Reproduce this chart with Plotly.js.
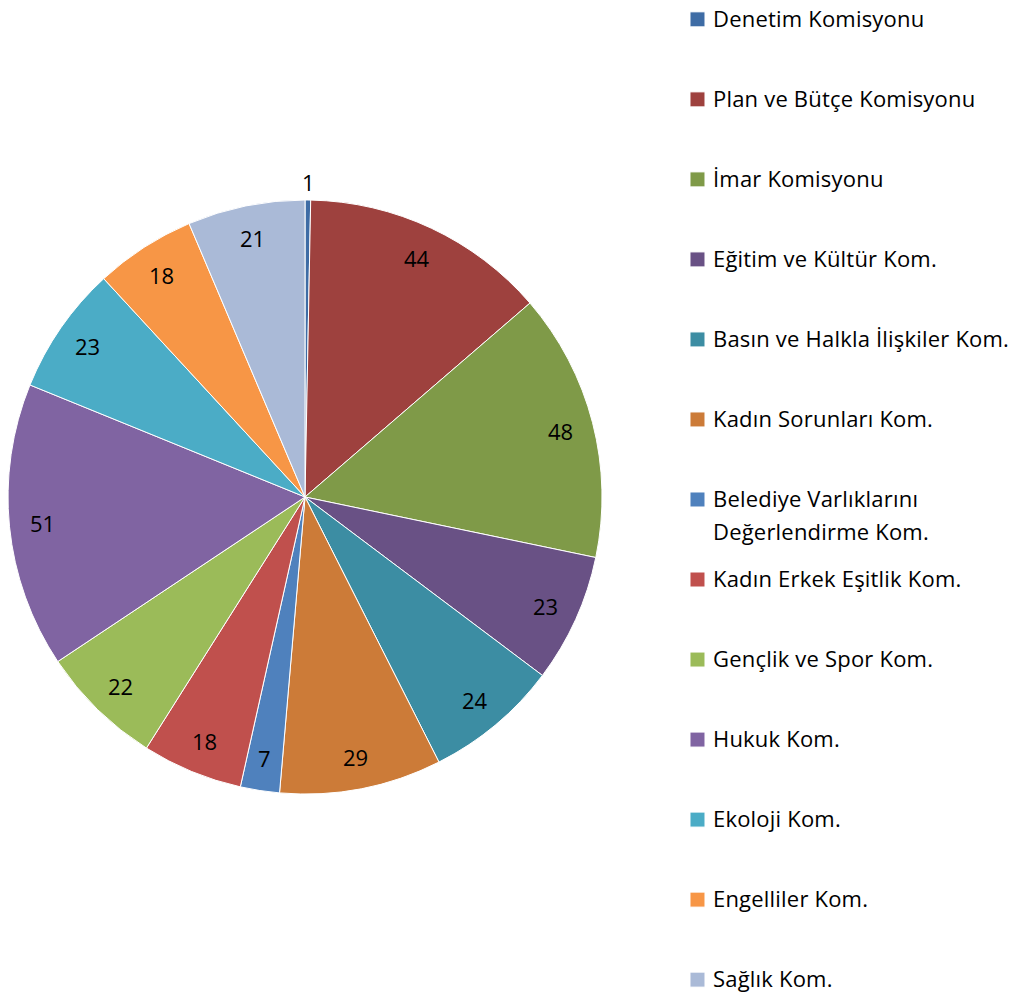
<!DOCTYPE html>
<html>
<head>
<meta charset="utf-8">
<script src="https://cdn.plot.ly/plotly-3.0.1.min.js"></script>
<style>
html,body{margin:0;padding:0;background:#fff;}
#chart{width:1027px;height:1001px;}
#chart .legendtext{letter-spacing:0.2px;}
</style>
</head>
<body>
<div id="chart"></div>
<script>
var categories = [
  "Denetim Komisyonu",
  "Plan ve Bütçe Komisyonu",
  "İmar Komisyonu",
  "Eğitim ve Kültür Kom.",
  "Basın ve Halkla İlişkiler Kom.",
  "Kadın Sorunları Kom.",
  "Belediye Varlıklarını<br>Değerlendirme Kom.",
  "Kadın Erkek Eşitlik Kom.",
  "Gençlik ve Spor Kom.",
  "Hukuk Kom.",
  "Ekoloji Kom.",
  "Engelliler Kom.",
  "Sağlık Kom."
];
var values = [1, 44, 48, 23, 24, 29, 7, 18, 22, 51, 23, 18, 21];
var colors = ["#3E6CA5", "#9E413E", "#7F9A48", "#695185", "#3C8DA3", "#CC7B38",
              "#4F81BD", "#C0504D", "#9BBB59", "#8064A2", "#4BACC6", "#F79646", "#AABAD7"];

var W = 1027, H = 1001;
var FONT = "'Open Sans', 'Noto Sans', sans-serif";
var domX = [0.0078, 0.5862], domY = [0.2068, 0.8002];

// legend labels: shown at 22px, padded to three lines so every entry has equal height
var legendLabels = categories.map(function (c, i) {
  var lines = c.split("<br>");
  var s = lines.map(function (l) { return "<span style='font-size:22px'>" + l + "</span>"; }).join("<br>");
  if (i === categories.length - 1) return s;
  for (var k = lines.length; k < 3; k++) s += "<br>&nbsp;";
  return s;
});

// data labels placed from the slice mid-angles (clockwise from 12 o'clock)
var total = values.reduce(function (a, b) { return a + b; }, 0);
var cx = (domX[0] + domX[1]) / 2, cy = (domY[0] + domY[1]) / 2;
var R = Math.min((domX[1] - domX[0]) * W, (domY[1] - domY[0]) * H) / 2;
var annotations = [];
var cum = 0;
values.forEach(function (v) {
  var mid = (cum + v / 2) / total * 2 * Math.PI;
  cum += v;
  var f = v < 3 ? 1.06 : 0.89;
  annotations.push({
    xref: "paper", yref: "paper",
    x: cx + f * R * Math.sin(mid) / W,
    y: cy + f * R * Math.cos(mid) / H,
    text: String(v),
    showarrow: false,
    xanchor: "center", yanchor: "middle",
    font: { family: FONT, size: 22, color: "#000000" }
  });
});

var trace = {
  type: "pie",
  labels: legendLabels,
  values: values,
  textinfo: "none",
  sort: false,
  direction: "clockwise",
  rotation: 0,
  marker: { colors: colors, line: { color: "#ffffff", width: 1 } },
  hoverinfo: "label+value",
  domain: { x: domX, y: domY }
};

var layout = {
  width: W,
  height: H,
  margin: { l: 0, r: 0, t: 0, b: 0 },
  paper_bgcolor: "#ffffff",
  showlegend: true,
  annotations: annotations,
  legend: {
    x: 0.6553, xanchor: "left",
    y: 1, yanchor: "top",
    valign: "top",
    maxheight: 1,
    font: { family: FONT, size: 19.75, color: "#000000" },
    itemwidth: 30,
    bgcolor: "rgba(0,0,0,0)"
  }
};

Plotly.newPlot("chart", [trace], layout, { displayModeBar: false, staticPlot: true }).then(function () {
  document.querySelectorAll("#chart .legendpoints path.legendpie").forEach(function (p) {
    p.setAttribute("d", "M7.5,7.5H-7.5V-7.5H7.5Z");
    p.setAttribute("transform", "translate(24.5,0)");
  });
  // wrapped legend entry: give its second line the wider spacing of the original
  document.querySelectorAll("#chart .legendtext").forEach(function (t) {
    var lines = t.querySelectorAll("tspan.line");
    if (lines.length > 1 && lines[1].textContent.indexOf("Değerlendirme") >= 0) {
      lines[1].setAttribute("dy", "33px");
    }
  });
});
</script>
</body>
</html>
